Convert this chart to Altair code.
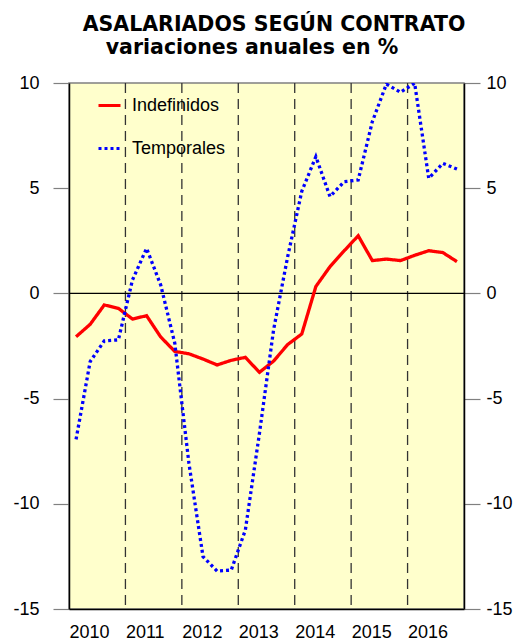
import altair as alt
import pandas as pd

# ---- data ----
years = [2010, 2011, 2012, 2013, 2014, 2015, 2016]
quarters = [1, 2, 3, 4]
series_names = ["Indefinidos", "Temporales"]
indefinidos = [-2.06, -1.47, -0.55, -0.71,
               -1.22, -1.06, -2.07, -2.76,
               -2.87, -3.12, -3.40, -3.18,
               -3.04, -3.75, -3.22, -2.43,
               -1.93, 0.33, 1.27, 2.02,
               2.74, 1.56, 1.63, 1.56,
               1.81, 2.03, 1.94, 1.51]
temporales = [-6.94, -3.24, -2.26, -2.21,
              0.64, 2.14, 0.40, -2.37,
              -8.07, -12.51, -13.20, -13.15,
              -11.25, -6.65, -1.74, 1.74,
              4.85, 6.50, 4.60, 5.31,
              5.39, 8.16, 9.95, 9.56,
              9.99, 5.47, 6.18, 5.91]
y_ticks = [-15, -10, -5, 0, 5, 10]
year_bounds = [2011, 2012, 2013, 2014, 2015, 2016]
title_main = "ASALARIADOS SEGÚN CONTRATO"
title_sub = "variaciones anuales en %"

# ---- tables ----
xs = [y + (q - 0.5) / 4 for y in years for q in quarters]
rows = []
for name, vals in zip(series_names, [indefinidos, temporales]):
    for x, v in zip(xs, vals):
        rows.append({"x": x, "valor": v, "serie": name})
df = pd.DataFrame(rows)
bounds_df = pd.DataFrame({"x": year_bounds})
zero_df = pd.DataFrame({"valor": [0]})

FONT = "Liberation Sans"
xscale = alt.Scale(domain=[2010, 2017], nice=False, zero=False)
yscale = alt.Scale(domain=[-15, 10], nice=False, zero=False)

xaxis = alt.Axis(values=years, labelExpr="'' + datum.value", title=None,
                 labelAlign="left", ticks=False, labelPadding=14, labelFontSize=18,
                 labelFont=FONT, labelColor="black", domainColor="black",
                 domainWidth=1.5, grid=False, labelFlush=False)
yaxis_left = alt.Axis(values=y_ticks, labelExpr="'' + datum.value", title=None,
                      orient="left", tickSize=16, tickColor="#808080", tickWidth=1.2,
                      labelPadding=14, labelFontSize=18, labelFont=FONT,
                      labelColor="black", domainColor="black", domainWidth=1.5,
                      grid=False)
yaxis_right = alt.Axis(values=y_ticks, labelExpr="'' + datum.value", title=None,
                       orient="right", tickSize=16, tickColor="#808080", tickWidth=1.2,
                       labelPadding=6, labelFontSize=18, labelFont=FONT,
                       labelColor="black", domainColor="black", domainWidth=1.5,
                       grid=False)

legend = alt.Legend(orient="none", legendX=28, legendY=10, direction="vertical",
                    title=None, symbolType="stroke", symbolSize=484,
                    symbolStrokeWidth=3, labelFontSize=18, labelFont=FONT,
                    labelColor="black", labelOffset=10, rowPadding=21, padding=0)

bounds = alt.Chart(bounds_df).mark_rule(
    color="#333333", strokeWidth=1.3, strokeDash=[10, 6]
).encode(x=alt.X("x:Q", scale=xscale, axis=xaxis))

lines = alt.Chart(df).mark_line(strokeWidth=3.3, clip=True, strokeCap="butt").encode(
    x=alt.X("x:Q", scale=xscale, axis=xaxis),
    y=alt.Y("valor:Q", scale=yscale, axis=yaxis_left),
    color=alt.Color("serie:N", scale=alt.Scale(domain=series_names,
                                               range=["#FF0000", "#0000FF"]),
                    legend=legend),
    strokeDash=alt.StrokeDash("serie:N", scale=alt.Scale(domain=series_names,
                                                         range=[[1, 0], [3, 3]]),
                              legend=legend),
    order=alt.Order("x:Q"),
)

zero = alt.Chart(zero_df).mark_rule(color="black", strokeWidth=1.2).encode(
    y=alt.Y("valor:Q", scale=yscale, axis=yaxis_right)
)

t1 = alt.Chart(pd.DataFrame({"t": [title_main]})).mark_text(
    font="DejaVu Sans", fontWeight="bold", fontSize=20.5, color="black",
    align="center", baseline="alphabetic"
).encode(text="t:N", x=alt.value(205), y=alt.value(-52))

t2 = alt.Chart(pd.DataFrame({"t": [title_sub]})).mark_text(
    font="DejaVu Sans", fontWeight="bold", fontSize=20.5, color="black",
    align="center", baseline="alphabetic"
).encode(text="t:N", x=alt.value(183), y=alt.value(-29))

chart = alt.layer(bounds, zero, lines, t1, t2).resolve_axis(y="independent").properties(
    width=395, height=526,
    padding={"left": 61, "top": 75, "right": 49, "bottom": 33},
    autosize=alt.AutoSizeParams(type="none"),
).configure_view(fill="#FFFFCC", stroke="#808080", strokeWidth=1.5)

chart.save("out.html", embed_options={"renderer": "svg", "actions": False})
